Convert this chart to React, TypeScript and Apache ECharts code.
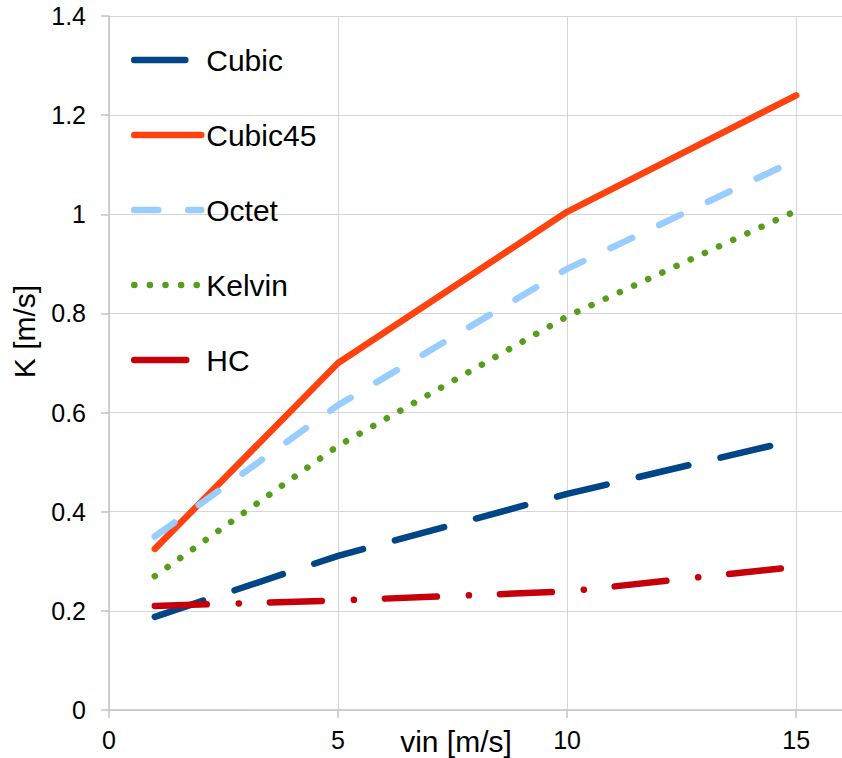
import React, { useEffect, useRef } from "react";
import * as echarts from "echarts";

// Inflow speed (x) and measured K for each lattice type
const vin = [1, 5, 10, 15];
const cubic = [0.188, 0.311, 0.436, 0.545];
const cubic45 = [0.325, 0.7, 1.005, 1.24];
const octet = [0.35, 0.615, 0.89, 1.11];
const kelvin = [0.27, 0.533, 0.794, 1.007];
const hc = [0.21, 0.221, 0.239, 0.289];

const seriesNames = ["Cubic", "Cubic45", "Octet", "Kelvin", "HC"];
const seriesValues = [cubic, cubic45, octet, kelvin, hc];
const seriesColors = ["#004586", "#ff420e", "#99ccff", "#579d1c", "#c5000b"];
const seriesDash: (number[] | "solid")[] = [
  [51, 33],
  "solid",
  [24, 30],
  [0.1, 15.5],
  [52, 32, 0.1, 31],
];

const xTitle = "vin [m/s]";
const yTitle = "K [m/s]";

const FONT = "'Liberation Sans', Arial, sans-serif";
const LINE_W = 6.5;

export default function App() {
  const ref = useRef<HTMLDivElement>(null);

  useEffect(() => {
    if (!ref.current) return;
    const chart = echarts.init(ref.current, undefined, { renderer: "svg" });

    const series = seriesNames.map((name, i) => ({
      name,
      type: "line",
      data: vin.map((x, j) => [x, seriesValues[i][j]]),
      showSymbol: false,
      symbol: "none",
      lineStyle: {
        color: seriesColors[i],
        width: LINE_W,
        type: seriesDash[i],
        cap: "round",
        join: "round",
      },
      itemStyle: { color: seriesColors[i] },
      emphasis: { disabled: true },
    }));

    chart.setOption({
      animation: false,
      backgroundColor: "#ffffff",
      grid: { left: 109, top: 16, bottom: 48, right: -8, containLabel: false },
      xAxis: {
        type: "value",
        min: 0,
        max: 16,
        interval: 5,
        axisLine: { show: true, lineStyle: { color: "#c4c4c4", width: 1.5 } },
        axisTick: { show: true, length: 8, lineStyle: { color: "#c4c4c4", width: 1.5 } },
        axisLabel: {
          fontSize: 25,
          color: "#000",
          fontFamily: FONT,
          margin: 17,
          showMaxLabel: false,
        },
        splitLine: { show: true, lineStyle: { color: "#d6d6d6", width: 1 } },
      },
      yAxis: {
        type: "value",
        min: 0,
        max: 1.4,
        interval: 0.2,
        axisLine: { show: true, lineStyle: { color: "#c4c4c4", width: 1.5 } },
        axisTick: { show: true, length: 8, lineStyle: { color: "#c4c4c4", width: 1.5 } },
        axisLabel: {
          fontSize: 25,
          color: "#000",
          fontFamily: FONT,
          margin: 23,
          formatter: (v: number) => String(parseFloat(v.toFixed(1))),
        },
        splitLine: { show: true, lineStyle: { color: "#d6d6d6", width: 1 } },
      },
      legend: {
        orient: "vertical",
        left: 126,
        top: 40,
        itemWidth: 67,
        itemHeight: 30,
        itemGap: 45,
        selectedMode: false,
        itemStyle: { opacity: 0, borderWidth: 0 },
        lineStyle: { width: LINE_W },
        textStyle: { fontSize: 30, color: "#000", fontFamily: FONT, lineHeight: 30 },
        data: seriesNames,
      },
      graphic: [
        {
          type: "text",
          x: 24.6,
          y: 331.5,
          rotation: Math.PI / 2,
          style: {
            text: yTitle,
            fontSize: 30,
            fontFamily: FONT,
            fill: "#000",
            align: "center",
            verticalAlign: "middle",
          },
        },
        {
          type: "text",
          x: 456,
          y: 741,
          style: {
            text: xTitle,
            fontSize: 30,
            fontFamily: FONT,
            fill: "#000",
            align: "center",
            verticalAlign: "middle",
          },
        },
      ],
      series,
    });

    return () => chart.dispose();
  }, []);

  return (
    <div
      ref={ref}
      style={{ position: "absolute", left: 0, top: 0, width: 842, height: 758 }}
    />
  );
}
